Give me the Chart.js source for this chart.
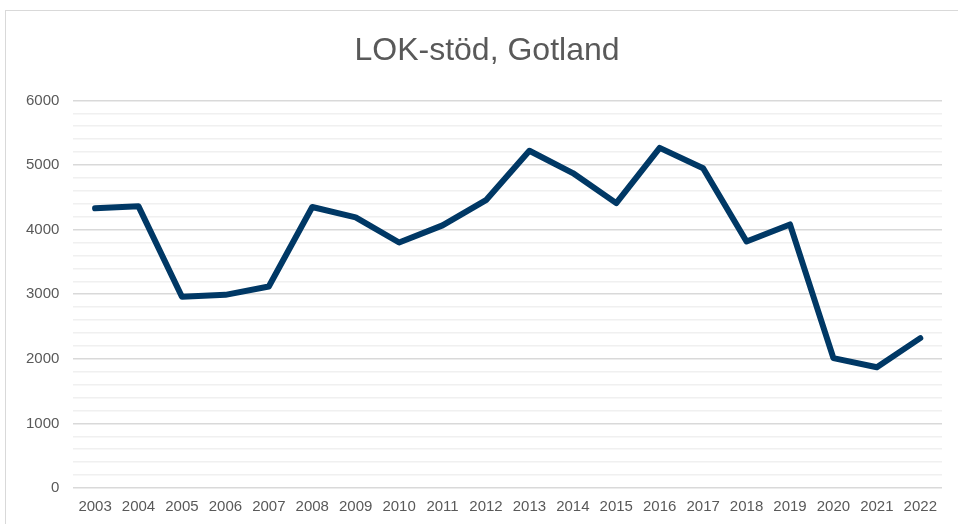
<!DOCTYPE html>
<html>
<head>
<meta charset="utf-8">
<script src="https://cdn.jsdelivr.net/npm/chart.js@4"></script>
<style>
  body { margin: 0; background: #fff; overflow: hidden; }
  #wrap { position: absolute; left: 5px; top: 10px; width: 980px; height: 520px; border: 1px solid #d9d9d9; box-sizing: border-box; }
</style>
</head>
<body>
<div id="wrap"><canvas id="lokChart"></canvas></div>
<script>
const years = ['2003', '2004', '2005', '2006', '2007', '2008', '2009', '2010', '2011', '2012',
  '2013', '2014', '2015', '2016', '2017', '2018', '2019', '2020', '2021', '2022'];
const lokStod = [4330, 4360, 2960, 2990, 3120, 4350, 4190, 3800, 4065, 4455,
  5220, 4875, 4410, 5265, 4950, 3815, 4080, 2010, 1870, 2320];

const ctx = document.getElementById('lokChart').getContext('2d');

// nudge the title a bit to the right, like in the original sheet
const titleShift = {
  id: 'titleShift',
  afterLayout(chart) {
    if (chart.titleBlock) chart.titleBlock.left += 20;
  }
};

const lokChart = new Chart(ctx, {
  type: 'line',
  data: {
    labels: years,
    datasets: [{
      label: 'LOK-stöd',
      data: lokStod,
      borderColor: '#003865',
      borderWidth: 6,
      borderJoinStyle: 'round',
      borderCapStyle: 'round',
      pointRadius: 0,
      tension: 0,
      fill: false
    }]
  },
  options: {
    responsive: true,
    maintainAspectRatio: false,
    animation: false,
    layout: { padding: { left: 6, right: 42, top: 11, bottom: 11 } },
    plugins: {
      legend: { display: false },
      tooltip: { enabled: false },
      title: {
        display: true,
        text: 'LOK-stöd, Gotland',
        color: '#595959',
        font: { family: 'Liberation Sans', size: 32, weight: 'normal' },
        padding: { top: 10, bottom: 30 }
      }
    },
    scales: {
      x: {
        offset: true,
        grid: { display: false },
        border: { display: false },
        ticks: { color: '#595959', padding: 2, font: { family: 'Liberation Sans', size: 15 }, maxRotation: 0, autoSkip: false }
      },
      y: {
        min: 0,
        max: 6000,
        border: { display: false },
        grid: {
          color: function (c) { return c.tick.value % 1000 === 0 ? '#d9d9d9' : '#f0f0f0'; },
          lineWidth: 1.5,
          drawTicks: false
        },
        ticks: {
          stepSize: 200,
          autoSkip: false,
          padding: 14,
          color: '#595959',
          font: { family: 'Liberation Sans', size: 15 },
          callback: function (v) { return v % 1000 === 0 ? v : ''; }
        }
      }
    }
  },
  plugins: [titleShift]
});
</script>
</body>
</html>
